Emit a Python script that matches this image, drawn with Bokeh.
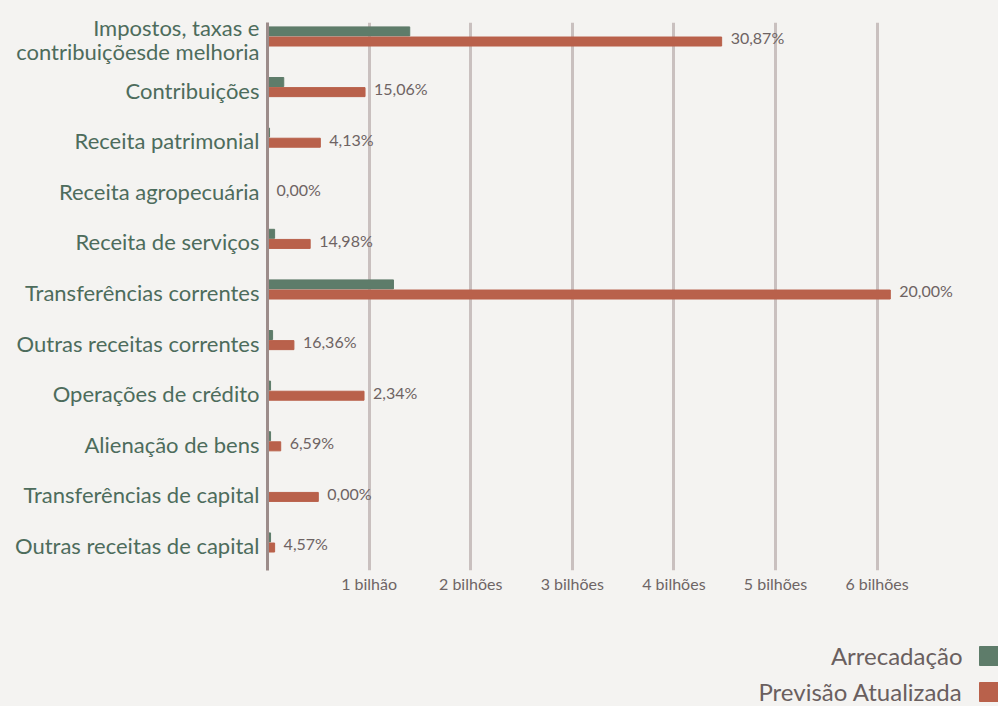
from bokeh.plotting import figure
from bokeh.layouts import column
from bokeh.models import Range1d, FixedTicker, ColumnDataSource
from bokeh.core.properties import value
from bokeh.embed import file_html
from bokeh.resources import INLINE

categories = [
    "Impostos, taxas e\ncontribuiçõesde melhoria",
    "Contribuições",
    "Receita patrimonial",
    "Receita agropecuária",
    "Receita de serviços",
    "Transferências correntes",
    "Outras receitas correntes",
    "Operações de crédito",
    "Alienação de bens",
    "Transferências de capital",
    "Outras receitas de capital",
]
# values in billions
arrecadacao = [1.40, 0.16, 0.02, 0.0, 0.07, 1.24, 0.05, 0.03, 0.03, 0.0, 0.03]
previsao = [4.47, 0.96, 0.52, 0.0, 0.42, 6.13, 0.26, 0.95, 0.13, 0.50, 0.07]
pct_labels = ["30,87%", "15,06%", "4,13%", "0,00%", "14,98%", "20,00%",
              "16,36%", "2,34%", "6,59%", "0,00%", "4,57%"]
x_ticks = [1, 2, 3, 4, 5, 6]
x_tick_labels = ["1 bilhão", "2 bilhões", "3 bilhões", "4 bilhões", "5 bilhões", "6 bilhões"]
legend_names = ["Arrecadação", "Previsão Atualizada"]

GREEN = "#5e7c6a"
RED = "#b9614b"
BG = "#f4f3f1"
FONT = "Lato"

W = 998
H1, H2 = 600, 106
FL, FR, FT, FB = 267, 998, 22, 570  # frame edges in pixels
PX_PER_BILLION = 101.6

idx = list(range(len(categories)))
src = ColumnDataSource(dict(
    yg=[i - 0.16 for i in idx],
    yr=[i + 0.04 for i in idx],
    yl=[i - 0.03 for i in idx],
    arr=arrecadacao,
    prev=previsao,
    lab=pct_labels,
))

p = figure(width=W, height=H1, output_backend="svg", toolbar_location=None,
           x_range=Range1d(0, (FR - FL) / PX_PER_BILLION), y_range=Range1d(10.494, -0.336),
           min_border_left=FL, min_border_right=W - FR, min_border_top=FT,
           min_border_bottom=H1 - FB,
           background_fill_color=BG, border_fill_color=BG)
p.outline_line_color = None

p.hbar(y="yg", left=0, right="arr", height=0.178, color=GREEN, source=src)
p.hbar(y="yr", left=0, right="prev", height=0.178, color=RED, source=src)
p.text(x="prev", y="yl", text="lab", source=src, x_offset=9,
       text_font=value(FONT), text_font_size="16px", text_color="#6e6363",
       text_baseline="middle", text_align="left")

# grid
p.xgrid.ticker = FixedTicker(ticks=x_ticks)
p.xgrid.grid_line_color = "#c9c0bf"
p.xgrid.grid_line_width = 3
p.ygrid.grid_line_color = None

# x axis
xa = p.xaxis[0]
xa.ticker = FixedTicker(ticks=x_ticks)
xa.major_label_overrides = {t: l for t, l in zip(x_ticks, x_tick_labels)}
xa.axis_line_color = None
xa.major_tick_line_color = None
xa.minor_tick_line_color = None
xa.major_label_standoff = -3
xa.major_label_text_font = FONT
xa.major_label_text_font_size = "16px"
xa.major_label_text_color = "#6e6565"

# y axis
ya = p.yaxis[0]
ya.ticker = FixedTicker(ticks=idx)
ya.major_label_overrides = {i: c for i, c in zip(idx, categories)}
ya.axis_line_color = "#9c8c8a"
ya.axis_line_width = 3
ya.major_tick_line_color = None
ya.minor_tick_line_color = None
ya.major_label_standoff = 2
ya.major_label_text_font = FONT
ya.major_label_text_font_size = "22px"
ya.major_label_text_line_height = 0.91
ya.major_label_text_color = "#4d6c5c"

# legend panel: a second figure, frame aligned with the chart's frame, pixel coordinates
lg = figure(width=W, height=H2, output_backend="svg", toolbar_location=None,
            x_range=Range1d(FL, W), y_range=Range1d(H2, 0),
            x_axis_location=None, y_axis_location=None,
            min_border_left=FL, min_border_right=0, min_border_top=0, min_border_bottom=0,
            background_fill_color=BG, border_fill_color=BG)
lg.grid.visible = False
lg.outline_line_color = None
rows = [55, 91]
lsrc = ColumnDataSource(dict(
    name=legend_names, col=[GREEN, RED], y=rows,
    top=[r - 9 for r in rows], bottom=[r + 10 for r in rows],
))
lg.text(x=962, y="y", text="name", source=lsrc, text_font=value(FONT),
        text_font_size="24px", text_color="#6a5f5f", text_align="right",
        text_baseline="middle")
lg.quad(left=979, right=W, top="top", bottom="bottom", color="col", source=lsrc)

html = file_html(column(p, lg, spacing=0), INLINE)
html = html.replace("<head>", "<head><style>html,body{margin:0;background:%s;}</style>" % BG, 1)
open("out.html", "w").write(html)
